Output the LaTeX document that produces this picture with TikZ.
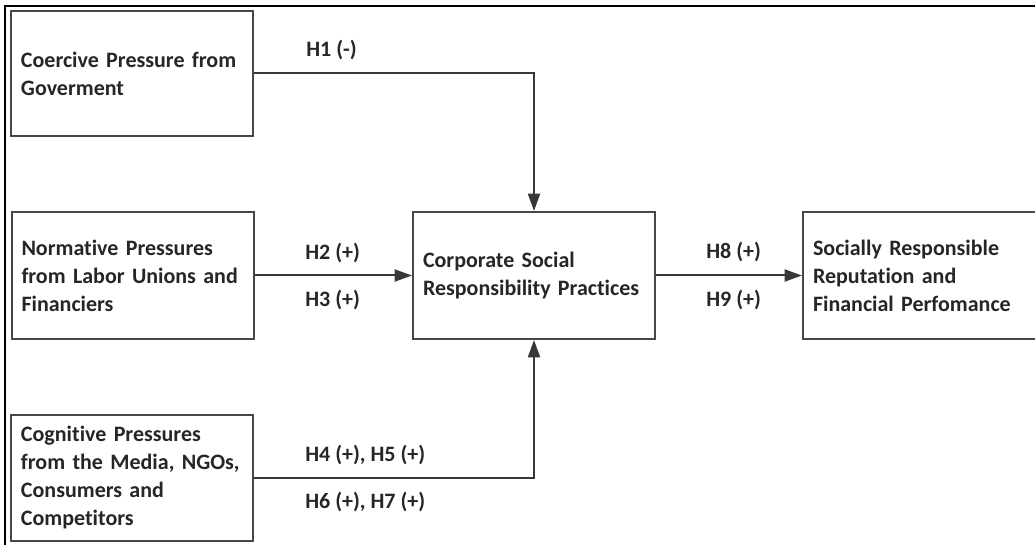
\documentclass[tikz,border=0pt]{standalone}
\usepackage{fontspec}
\setmainfont{Carlito}[Ligatures=NoCommon]
\usetikzlibrary{arrows.meta}
\begin{document}
\begin{tikzpicture}[x=0.75pt,y=-0.75pt,
  txt/.style={font=\bfseries\fontsize{16.5}{21}\selectfont, text=black!85},
  box/.style={txt, draw=black!72, line width=1.5pt, rectangle, inner xsep=7.5pt, inner ysep=0pt,
    align=left, text width=166.5pt, minimum width=181.5pt, minimum height=95.25pt},
  lbl/.style={txt, anchor=west, inner sep=0pt},
  conn/.style={draw=black!78, line width=1.5pt, -{Triangle[length=13pt,width=9pt]}}]
\clip (0,0) rectangle (1035,545);
\draw[line width=1.6pt] (5,560) -- (5,6) -- (1050,6);
\node[box, minimum height=93.75pt] (b1) at (132,73.5) {Coercive Pressure from\\Goverment};
\node[box] (b2) at (132.5,275.5) {Normative Pressures\\from Labor Unions and\\Financiers};
\node[box, minimum height=94.5pt] (b3) at (132,478) {Cognitive Pressures\\from the Media, NGOs,\\Consumers and\\Competitors};
\node[box] (csr) at (534,275.5) {Corporate Social\\Responsibility Practices};
\node[box] (out) at (924,275.5) {Socially Responsible\\Reputation and\\Financial Perfomance};
\draw[conn] (b1.east) -- (csr.north |- b1.east) -- (csr.north);
\draw[conn] (b2.east) -- (csr.west);
\draw[conn] (b3.east) -- (b3.east -| csr.south) -- (csr.south);
\draw[conn] (csr.east) -- (out.west);
\node[lbl] (h1) at (306,50) {H1 (-)};
\node[lbl] (h2) at (305,253) {H2 (+)};
\node[lbl] (h3) at (305,300) {H3 (+)};
\node[lbl] (h45) at (305,455) {H4 (+), H5 (+)};
\node[lbl] (h67) at (305,502) {H6 (+), H7 (+)};
\node[lbl] (h8) at (706,252) {H8 (+)};
\node[lbl] (h9) at (706,300) {H9 (+)};
\end{tikzpicture}
\end{document}
